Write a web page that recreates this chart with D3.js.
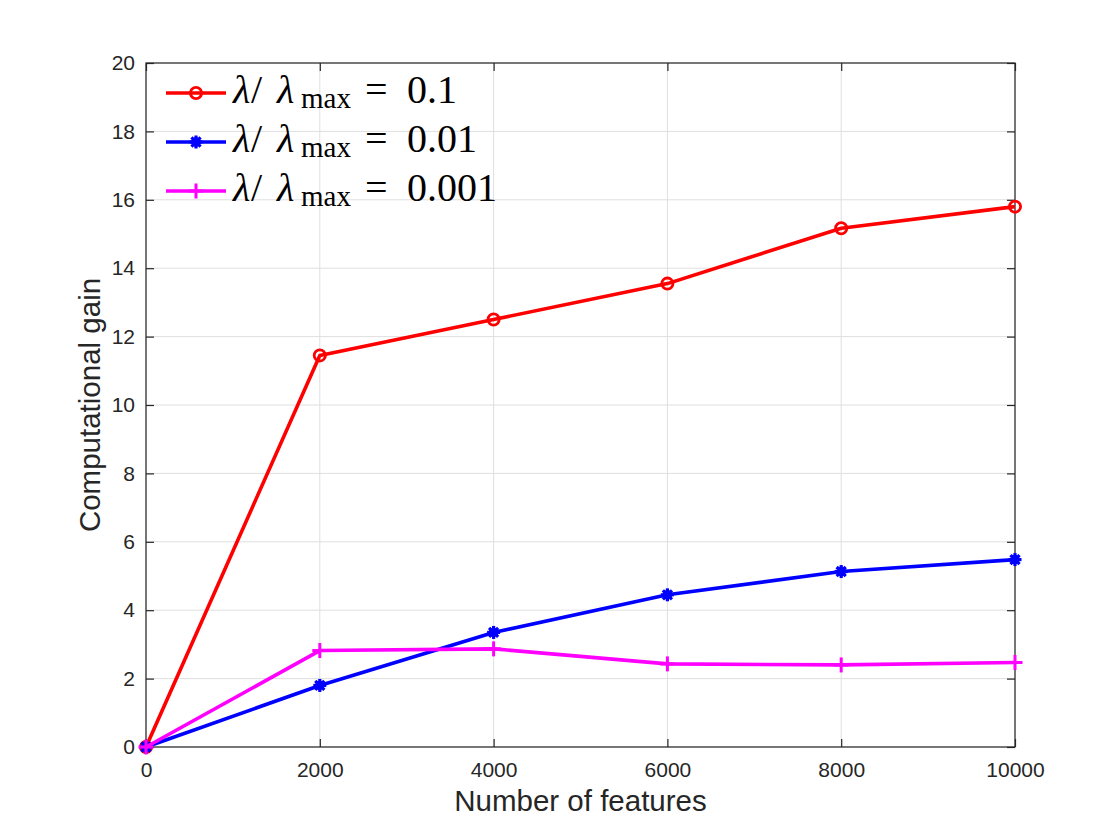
<!DOCTYPE html>
<html><head><meta charset="utf-8">
<script src="https://cdn.jsdelivr.net/npm/d3@7"></script>
<style>body{margin:0;background:#fff;} svg{display:block;}</style>
</head><body>
<svg id="c" width="1120" height="840"></svg>
<script>
const xValues = [0, 2000, 4000, 6000, 8000, 10000];
const red01 = [0, 11.45, 12.5, 13.55, 15.17, 15.8];
const blue001 = [0, 1.8, 3.35, 4.45, 5.13, 5.48];
const mag0001 = [0, 2.82, 2.87, 2.43, 2.4, 2.47];
const xTicks = [0, 2000, 4000, 6000, 8000, 10000];
const yTicks = [0, 2, 4, 6, 8, 10, 12, 14, 16, 18, 20];
const seriesNames = ["0.1", "0.01", "0.001"];
const seriesColors = ["#ff0000", "#0000ff", "#ff00ff"];
const seriesMarkers = ["circle", "star", "plus"];

(function(){
const svg = d3.select("#c");
const L = 146, R = 1015, T = 63, B = 747;
const x = d3.scaleLinear().domain([0, 10000]).range([L, R]);
const y = d3.scaleLinear().domain([0, 20]).range([B, T]);
const axisColor = "#262626";

// grid
const g = svg.append("g");
g.selectAll(".gx").data(xTicks).enter().append("line")
  .attr("x1", d => x(d)).attr("x2", d => x(d)).attr("y1", T).attr("y2", B)
  .attr("stroke", "#dfdfdf").attr("stroke-width", 1);
g.selectAll(".gy").data(yTicks).enter().append("line")
  .attr("y1", d => y(d)).attr("y2", d => y(d)).attr("x1", L).attr("x2", R)
  .attr("stroke", "#dfdfdf").attr("stroke-width", 1);

// axes
const font = "'Liberation Sans', Arial, Helvetica, sans-serif";
const axB = d3.axisBottom(x).tickValues(xTicks).tickSize(-8).tickPadding(15.5).tickFormat(d3.format("d"));
const axL = d3.axisLeft(y).tickValues(yTicks).tickSize(-8).tickPadding(11).tickFormat(d3.format("d"));
const axT = d3.axisTop(x).tickValues(xTicks).tickSize(-8).tickFormat("");
const axR = d3.axisRight(y).tickValues(yTicks).tickSize(-8).tickFormat("");
function style(sel){
  sel.selectAll("path.domain").remove();
  sel.selectAll("line").attr("stroke", axisColor).attr("stroke-width", 1.2);
  sel.selectAll("text").attr("fill", axisColor).style("font-family", font).style("font-size", "21px");
}
svg.append("g").attr("transform", `translate(0,${B})`).call(axB).call(style);
svg.append("g").attr("transform", `translate(${L},0)`).call(axL).call(style);
svg.append("g").attr("transform", `translate(0,${T})`).call(axT).call(style);
svg.append("g").attr("transform", `translate(${R},0)`).call(axR).call(style);
svg.append("rect").attr("x", L).attr("y", T).attr("width", R - L).attr("height", B - T)
  .attr("fill", "none").attr("stroke", axisColor).attr("stroke-width", 1.2);

// axis titles
svg.append("text").attr("x", x(5000)).attr("y", 811).attr("text-anchor", "middle")
  .style("font-family", font).style("font-size", "29.5px").attr("fill", axisColor).text("Number of features");
svg.append("text").attr("transform", `translate(100,${y(10)}) rotate(-90)`).attr("text-anchor", "middle")
  .style("font-family", font).style("font-size", "29.5px").attr("fill", axisColor).text("Computational gain");

// markers
function drawMarker(sel, type, color){
  if (type === "circle") {
    sel.append("circle").attr("r", 5.6).attr("fill", "none").attr("stroke", color).attr("stroke-width", 2.8);
  } else if (type === "star") {
    const s = 6.5;
    const p = [[-s,0,s,0],[0,-s,0,s],[-s*0.7,-s*0.7,s*0.7,s*0.7],[-s*0.7,s*0.7,s*0.7,-s*0.7]];
    p.forEach(q => sel.append("line").attr("x1", q[0]).attr("y1", q[1]).attr("x2", q[2]).attr("y2", q[3])
      .attr("stroke", color).attr("stroke-width", 3.2));
    sel.append("circle").attr("r", 4.8).attr("fill", color);
  } else {
    const s = 7.5;
    sel.append("line").attr("x1", -s).attr("x2", s).attr("y1", 0).attr("y2", 0).attr("stroke", color).attr("stroke-width", 3);
    sel.append("line").attr("y1", -s).attr("y2", s).attr("x1", 0).attr("x2", 0).attr("stroke", color).attr("stroke-width", 3);
  }
}

const allSeries = [red01, blue001, mag0001];
const line = d3.line().x((d, i) => x(xValues[i])).y(d => y(d));
allSeries.forEach((vals, k) => {
  svg.append("path").datum(vals).attr("d", line).attr("fill", "none")
    .attr("stroke", seriesColors[k]).attr("stroke-width", 3.6).attr("stroke-linejoin", "round");
  vals.forEach((v, i) => {
    const m = svg.append("g").attr("transform", `translate(${x(xValues[i])},${y(v)})`);
    drawMarker(m, seriesMarkers[k], seriesColors[k]);
  });
});

// legend
const serif = "'Liberation Serif', 'DejaVu Serif', serif";
seriesNames.forEach((nm, k) => {
  const cy = 93 + k * 49;
  svg.append("line").attr("x1", 166).attr("x2", 226).attr("y1", cy).attr("y2", cy)
    .attr("stroke", seriesColors[k]).attr("stroke-width", 3.6);
  const m = svg.append("g").attr("transform", `translate(196,${cy})`);
  drawMarker(m, seriesMarkers[k], seriesColors[k]);
  const lg = svg.append("g").attr("transform", `translate(233,${cy + 10})`)
    .style("font-family", serif).attr("fill", "#000");
  lg.append("text").attr("x", 0).style("font-style", "italic").style("font-size", "40px").text("λ");
  lg.append("text").attr("x", 18).style("font-size", "40px").text("/");
  lg.append("text").attr("x", 44).style("font-style", "italic").style("font-size", "40px").text("λ");
  lg.append("text").attr("x", 68).attr("y", 5).style("font-size", "29px").text("max");
  lg.append("text").attr("x", 132).style("font-size", "40px").text("=");
  lg.append("text").attr("x", 174).style("font-size", "40px").text(nm);
});
})();
</script>
</body></html>
